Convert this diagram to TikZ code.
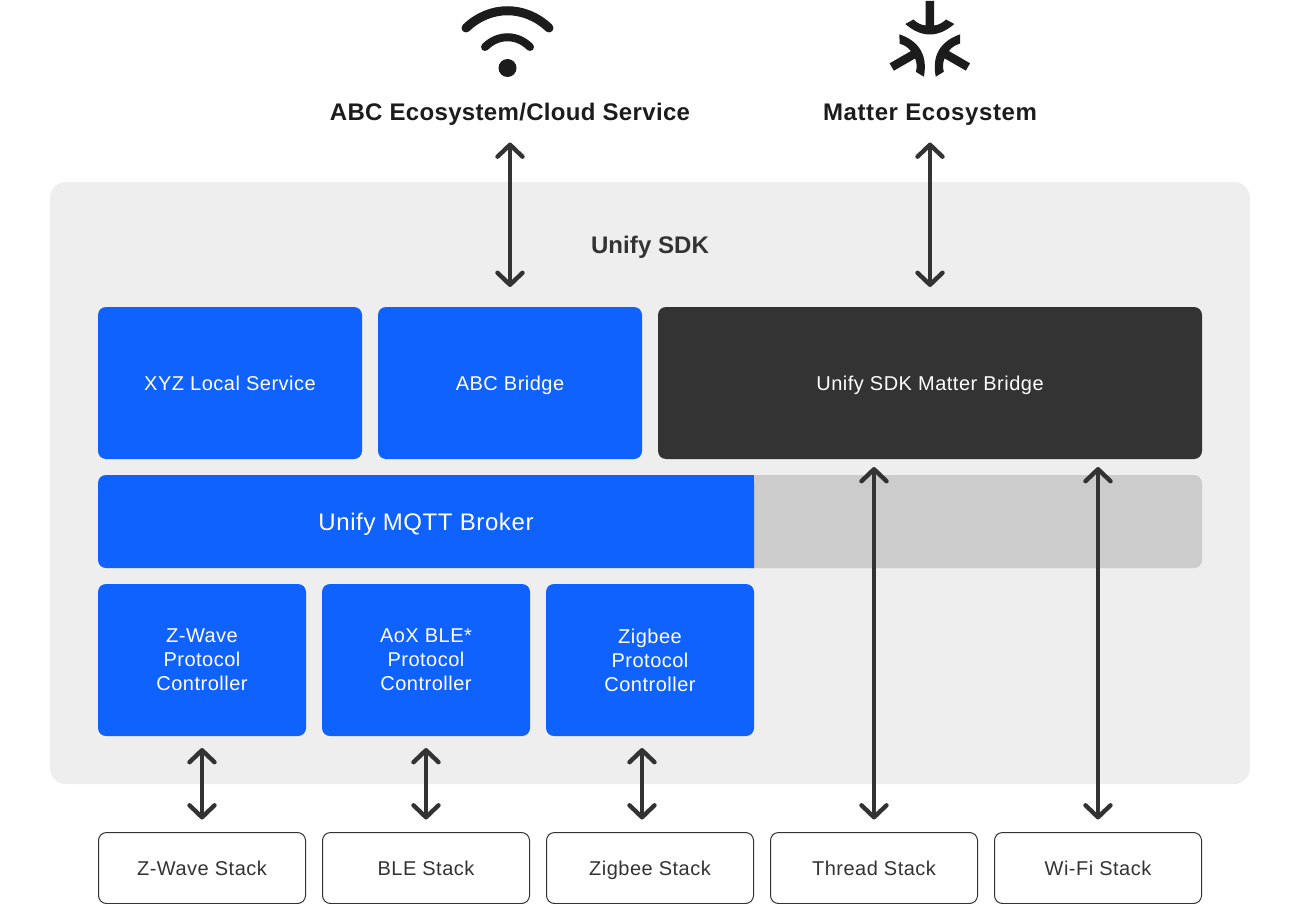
\documentclass[tikz,border=0pt]{standalone}
\usepackage{fontspec}
\setmainfont{Liberation Sans}[LetterSpace=2.5]
\usetikzlibrary{arrows.meta}
\definecolor{ublue}{HTML}{0F62FE}
\definecolor{udark}{HTML}{333333}
\definecolor{upanel}{HTML}{EEEEEE}
\definecolor{ugrey}{HTML}{CCCCCC}
\definecolor{uink}{HTML}{1C1C1C}
\tikzset{
  x=1pt,y=-1pt,
  boxbase/.style={rectangle,rounded corners=8pt,inner sep=0pt,outer sep=0pt,font=\fontsize{20}{24}\selectfont},
  oneline/.style={text height=14.4pt,text depth=0pt},
  threelines/.style={align=center,execute at begin node={\rule{0pt}{15pt}}},
  bluebox/.style={boxbase,fill=ublue,text=white,minimum width=#1,minimum height=152pt},
  darkbox/.style={boxbase,fill=udark,text=white,minimum width=#1,minimum height=152pt},
  stackbox/.style={boxbase,oneline,draw=udark,line width=1pt,fill=white,text=udark,minimum width=207pt,minimum height=71pt},
  plainlabel/.style={inner sep=0pt,outer sep=0pt,text height=17.2pt,text depth=0pt},
  heading/.style={plainlabel,minimum height=32pt,text=uink,font=\fontsize{24}{28}\selectfont\bfseries},
  dbl/.style={draw=udark,line width=4.4pt,line cap=round,{Straight Barb[length=12pt,width=25pt,line cap=round,line join=round]}-{Straight Barb[length=12pt,width=25pt,line cap=round,line join=round]}},
  icon/.style={draw=uink,line cap=round},
}
\begin{document}
\begin{tikzpicture}
\useasboundingbox (0,0) rectangle (1300,904);
% panel
\fill[upanel,rounded corners=16pt] (50,182) rectangle (1250,784);
\node[heading,text=udark] (sdk) at (650,245) {\addfontfeature{LetterSpace=0.3}Unify SDK};
% ecosystem labels
\node[heading] (abceco) at (510,112) {\addfontfeature{LetterSpace=1.4}ABC Ecosystem/Cloud Service};
\node[heading] (mateco) at (930,112) {Matter Ecosystem};
% wifi icon
\draw[icon,line width=9pt] (466,28) .. controls (490,5) and (525,5) .. (549,28);
\draw[icon,line width=8pt] (485,47) .. controls (498,34) and (517,34) .. (530,47);
\fill[uink] (507.5,68) circle (9);
% matter icon
\foreach \a in {0,120,240}{
  \begin{scope}[rotate around={\a:(929.8,45)}]
    \fill[uink] (925.5,1) -- (934,1) -- (934,25.5)
      .. controls (938.5,25) and (942.5,23) .. (946,19.5) -- (954.3,24)
      .. controls (938,38) and (921.6,38) .. (905.3,24) -- (913.5,19.5)
      .. controls (917,23) and (921,25) .. (925.5,25.5) -- cycle;
  \end{scope}
}
% upper row
\node[bluebox=264pt,oneline] (xyz) at (230,383) {XYZ Local Service};
\node[bluebox=264pt,oneline] (abc) at (510,383) {ABC Bridge};
\node[darkbox=544pt,oneline] (mbridge) at (930,383) {Unify SDK Matter Bridge};
% broker band
\fill[ugrey,rounded corners=8pt] (740,475) -- (1202,475) -- (1202,568) -- (740,568) -- cycle;
\fill[ublue,rounded corners=8pt] (98,475) -- (754,475) [sharp corners] -- (754,568) [rounded corners=8pt] -- (98,568) -- cycle;
\fill[ublue] (740,475) rectangle (754,568);
\node[plainlabel,text=white,font=\fontsize{24}{28}\selectfont] (mqtt) at (426,522) {Unify MQTT Broker};
% controllers
\node[bluebox=208pt,threelines] (zwc) at (202,660) {Z-Wave\\Protocol\\Controller};
\node[bluebox=208pt,threelines] (blec) at (426,660) {AoX BLE*\\Protocol\\Controller};
\node[bluebox=208pt,threelines] (zigc) at (650,660) {Zigbee\\Protocol\\Controller};
% stacks
\node[stackbox] (zws) at (202,868) {Z-Wave Stack};
\node[stackbox] (bles) at (426,868) {BLE Stack};
\node[stackbox] (zigs) at (650,868) {Zigbee Stack};
\node[stackbox] (ths) at (874,868) {Thread Stack};
\node[stackbox] (wfs) at (1098,868) {Wi-Fi Stack};
% connectors
\draw[dbl,shorten <=14.5pt,shorten >=20pt] (abceco.south) -- (abc.north);
\draw[dbl,shorten <=14.5pt,shorten >=20pt] (mateco.south) -- (mbridge.north);
\draw[dbl,shorten <=12pt,shorten >=13pt] (zwc.south) -- (zws.north);
\draw[dbl,shorten <=12pt,shorten >=13pt] (blec.south) -- (bles.north);
\draw[dbl,shorten <=12pt,shorten >=13pt] ([xshift=-8pt]zigc.south) -- ([xshift=-8pt]zigs.north);
\draw[dbl,shorten <=8pt,shorten >=13pt] (mbridge.south -| ths.north) -- (ths.north);
\draw[dbl,shorten <=8pt,shorten >=13pt] (mbridge.south -| wfs.north) -- (wfs.north);
\end{tikzpicture}
\end{document}
